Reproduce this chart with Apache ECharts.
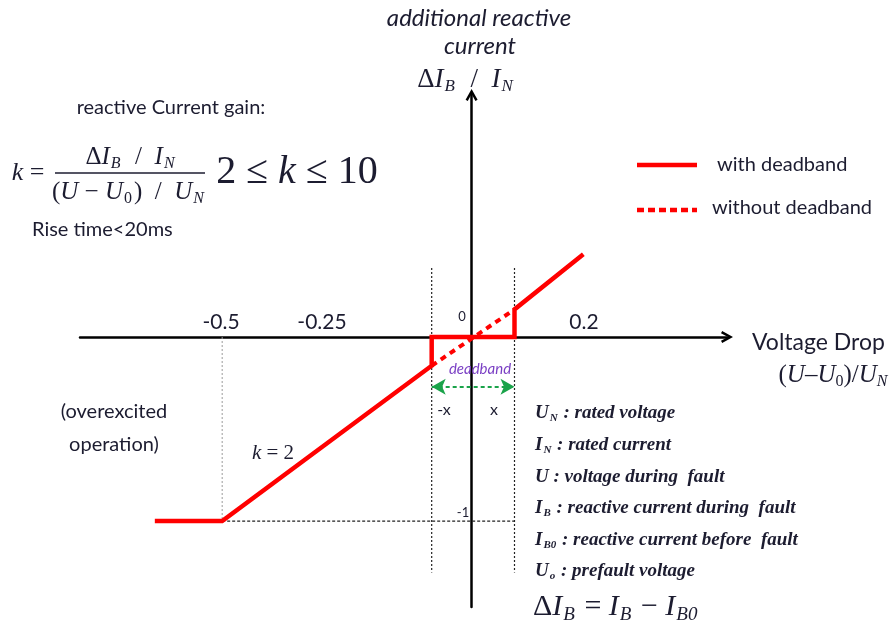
<!DOCTYPE html>
<html><head><meta charset="utf-8">
<script src="https://cdn.jsdelivr.net/npm/echarts@6/dist/echarts.min.js"></script>
<style>html,body{margin:0;padding:0;background:#fff}#chart{width:890px;height:633px}</style>
</head><body><div id="chart"></div>
<script>
// Reactive current injection characteristic (with / without deadband)
const withDeadband = [[-0.635, -1], [-0.5, -1], [-0.08, -0.156], [-0.08, 0], [0.086, 0], [0.086, 0.15], [0.224, 0.45]];
const withoutDeadband = [[-0.08, -0.156], [0.086, 0.15]];
const deadband = [-0.08, 0.086];
const saturation = { x: -0.5, y: -1 };
const tickLabels = ['-0.5', '-0.25', '0.2'];
const originLabel = '0';
const limitLabel = '-1';
const seriesNames = ['with deadband', 'without deadband'];

const SANS = 'Lato, "Open Sans", sans-serif';
const SERIF = '"Liberation Serif", "DejaVu Serif", serif';
const INK = '#1c1c30';
const RED = '#ff0000';

const chart = echarts.init(document.getElementById('chart'), null, { renderer: 'canvas' });

// open chevron used as arrow head on both axes
const chevron = 'path://M5,0 L10,9 L8.2,10 L5,4.2 L1.8,10 L0,9 Z';

function txt(x, y, text, opts) {
  return {
    type: 'text', x: x, y: y, z: 50,
    style: Object.assign({
      text: text, fill: INK, font: '20px ' + SANS,
      align: 'center', verticalAlign: 'middle'
    }, opts || {})
  };
}

// rich styles for math notation
const mathRich = function (size, gap) {
  const sub = Math.round(size * 0.62);
  const drop = Math.round(size * 0.5);
  const g = gap === undefined ? 2 : gap;
  return {
    i: { fontFamily: SERIF, fontStyle: 'italic', fontSize: size, fill: INK },
    n: { fontFamily: SERIF, fontSize: size, fill: INK },
    s: { fontFamily: SERIF, fontStyle: 'italic', fontSize: sub, fill: INK, padding: [drop, g, 0, g ? 1 : 0] },
    d: { fontFamily: SERIF, fontSize: sub, fill: INK, padding: [drop, g, 0, g ? 1 : 0] }
  };
};
function math(x, y, text, size, align, gap) {
  return { type: 'text', x: x, y: y, z: 50, style: { text: text, rich: mathRich(size, gap), align: align || 'center', verticalAlign: 'middle' } };
}

const listRich = {
  i: { fontFamily: SERIF, fontStyle: 'italic', fontWeight: 'bold', fontSize: 19, fill: INK },
  s: { fontFamily: SERIF, fontStyle: 'italic', fontWeight: 'bold', fontSize: 11, fill: INK, padding: [10, 1, 0, 1] }
};

const listLines = [
  '{i|U}{s|N}{i| : rated voltage}',
  '{i|I}{s|N}{i| : rated current}',
  '{i|U : voltage during  fault}',
  '{i|I}{s|B}{i| : reactive current during  fault}',
  '{i|I}{s|B0}{i| : reactive current before  fault}',
  '{i|U}{s|o}{i| : prefault voltage}'
];
const listY = [413, 445, 477, 508, 540, 571];

const graphics = [
  txt(479, 18, 'additional reactive', { font: 'italic 24px ' + SANS }),
  txt(480, 46, 'current', { font: 'italic 24px ' + SANS }),
  math(466, 80, '{n|Δ}{i|I}{s|B}{n|  /  }{i|I}{s|N}', 27),
  txt(171, 108, 'reactive Current gain:', { font: '20px ' + SANS }),
  // gain definition as a fraction
  math(28, 173, '{i|k}{n| =}', 26),
  math(131, 157, '{n|Δ}{i|I}{s|B}{n|  /  }{i|I}{s|N}', 25),
  { type: 'line', z: 50, shape: { x1: 55, y1: 173, x2: 205, y2: 173 }, style: { stroke: INK, lineWidth: 1.5 } },
  math(129, 192, '{n|(}{i|U}{n| − }{i|U}{d|0}{n|)  /  }{i|U}{s|N}', 25),
  math(297, 172, '{n|2 ≤ }{i|k}{n| ≤ 10}', 40),
  txt(32, 230, 'Rise time<20ms', { font: '20px ' + SANS, align: 'left' }),
  // axis annotations
  txt(221, 322, tickLabels[0], { font: '21px ' + SANS }),
  txt(322, 322, tickLabels[1], { font: '21px ' + SANS }),
  txt(584, 322, tickLabels[2], { font: '21px ' + SANS }),
  txt(462, 317, originLabel, { font: '13px ' + SANS }),
  txt(463, 513, limitLabel, { font: '13px ' + SANS }),
  txt(480, 369, 'deadband', { font: 'italic 15px ' + SANS, fill: '#7a3fc4' }),
  txt(444, 410, '-x', { font: '16px ' + SANS }),
  txt(494, 410, 'x', { font: '16px ' + SANS }),
  txt(752, 343, 'Voltage Drop', { font: '23px ' + SANS, align: 'left' }),
  math(833, 375, '{n|(}{i|U}{n|–}{i|U}{d|0}{n|)/}{i|U}{s|N}', 25, 'center', 0),
  txt(114, 412, '(overexcited', { font: '20px ' + SANS }),
  txt(114, 445, 'operation)', { font: '20px ' + SANS }),
  math(273, 453, '{i|k}{n| = 2}', 21),
  math(533, 607, '{n|Δ}{i|I}{s|B}{n| = }{i|I}{s|B}{n| − }{i|I}{s|B0}', 30, 'left'),
  // legend
  { type: 'line', z: 50, shape: { x1: 637, y1: 165, x2: 697, y2: 165 }, style: { stroke: RED, lineWidth: 4.5 } },
  { type: 'line', z: 50, shape: { x1: 637, y1: 210, x2: 697, y2: 210 }, style: { stroke: RED, lineWidth: 4.5, lineDash: [7, 4] } },
  txt(717, 165, seriesNames[0], { font: '20px ' + SANS, align: 'left' }),
  txt(712, 208, seriesNames[1], { font: '20px ' + SANS, align: 'left' })
];
listLines.forEach(function (l, k) {
  graphics.push({ type: 'text', x: 535, y: listY[k], z: 50, style: { text: l, rich: listRich, align: 'left', verticalAlign: 'middle' } });
});

const guideTop = 0.375, guideBottom = -1.28, arrowY = -0.27;

chart.setOption({
  animation: false,
  backgroundColor: '#ffffff',
  grid: { left: 80, right: 163, top: 95, bottom: 26 },
  xAxis: {
    type: 'value', min: -0.785, max: 0.512,
    axisLine: { onZero: true, symbol: ['none', chevron], symbolSize: [14, 12], lineStyle: { color: '#000', width: 2.5 } },
    axisTick: { show: false }, axisLabel: { show: false }, splitLine: { show: false }
  },
  yAxis: {
    type: 'value', min: -1.467, max: 1.315,
    axisLine: { onZero: true, symbol: ['none', chevron], symbolSize: [14, 12], lineStyle: { color: '#000', width: 2.5 } },
    axisTick: { show: false }, axisLabel: { show: false }, splitLine: { show: false }
  },
  graphic: graphics,
  series: [
    { name: 'guide-sat-v', type: 'line', symbol: 'none', silent: true, z: 1,
      data: [[saturation.x, 0], [saturation.x, saturation.y]],
      lineStyle: { color: '#9a9a9a', width: 1, type: [2, 2] } },
    { name: 'guide-sat-h', type: 'line', symbol: 'none', silent: true, z: 1,
      data: [[saturation.x, saturation.y], [deadband[1], saturation.y]],
      lineStyle: { color: '#222', width: 1.2, type: [3, 2] } },
    { name: 'guide-db-left', type: 'line', symbol: 'none', silent: true, z: 1,
      data: [[deadband[0], guideTop], [deadband[0], guideBottom]],
      lineStyle: { color: '#222', width: 1.2, type: [2, 2] } },
    { name: 'guide-db-right', type: 'line', symbol: 'none', silent: true, z: 1,
      data: [[deadband[1], guideTop], [deadband[1], guideBottom]],
      lineStyle: { color: '#222', width: 1.2, type: [2, 2] },
      markLine: {
        silent: true, symbol: ['arrow', 'arrow'], symbolSize: [12, 14], label: { show: false },
        lineStyle: { color: '#1aa34a', width: 2, type: [4, 3] },
        data: [[{ coord: [deadband[0], arrowY] }, { coord: [deadband[1], arrowY] }]]
      } },
    { name: seriesNames[1], type: 'line', symbol: 'none', z: 3,
      data: withoutDeadband, color: RED,
      lineStyle: { color: RED, width: 4, type: [6, 5] } },
    { name: seriesNames[0], type: 'line', symbol: 'none', z: 4,
      data: withDeadband, color: RED,
      lineStyle: { color: RED, width: 4.5, join: 'miter' } }
  ]
});
</script></body></html>
